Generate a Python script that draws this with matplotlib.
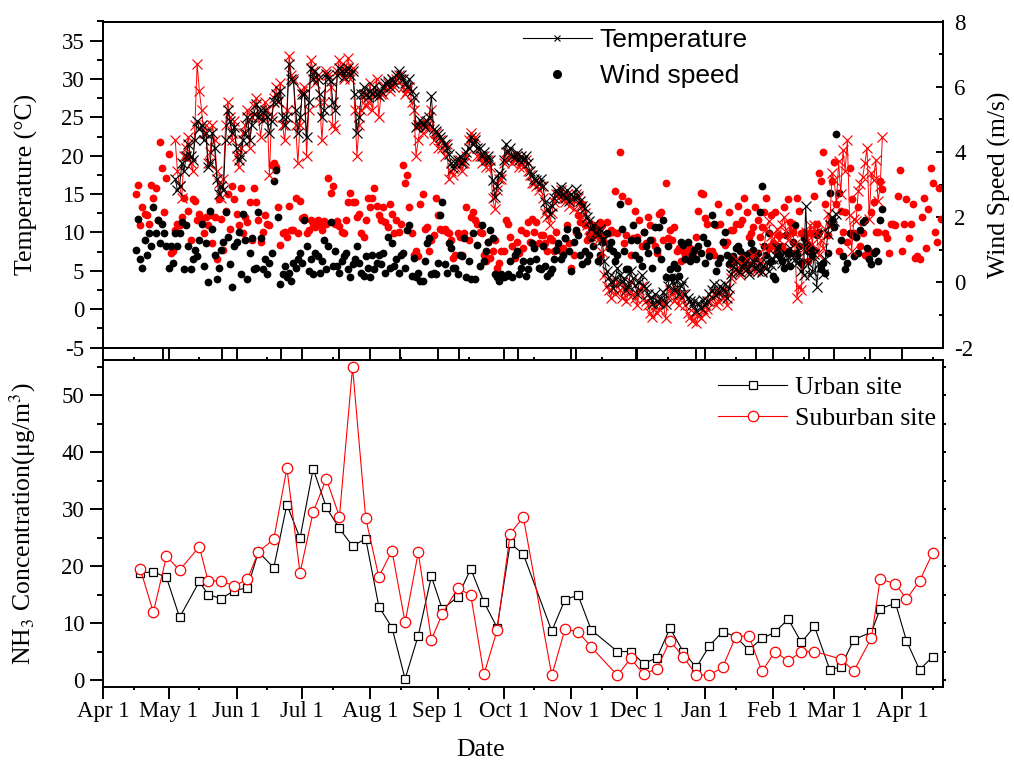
import matplotlib

matplotlib.use("Agg")
import matplotlib.dates as mdates
import matplotlib.pyplot as plt
import pandas as pd
from matplotlib.lines import Line2D
from matplotlib.ticker import FixedLocator, MultipleLocator, NullFormatter

plt.rcParams["font.family"] = ["Liberation Serif", "DejaVu Serif"]
plt.rcParams["mathtext.fontset"] = "stix"
plt.rcParams["axes.unicode_minus"] = False

AXIS_START = pd.Timestamp("2013-04-01")
AXIS_END = AXIS_START + pd.Timedelta(days=383.7)

# daily air temperature (degC); black = urban, red = suburban
TEMP_URBAN_START = "2013-05-04"
temp_urban = [
    17, 15.5, 16, 19, 18, 20, 21.5, 20, 19.5, 22, 24.5, 23.5, 24, 22, 23, 18.5, 19, 23,
    21, 17, 15, 16, 15.5, 22, 26, 24.5, 23, 23.7,
    21, 19.4, 20, 22, 23, 25, 22, 24, 25.5, 26.8, 25, 26, 24.6, 26, 25, 23, 24.5, 27,
    28, 27.2, 28.5, 25, 24, 25, 32, 30, 29.8, 26, 23, 25,
    28, 28, 22.4, 27, 31.5, 30, 31, 30, 28, 25, 26, 30.6, 30, 29.8, 27, 26, 30.5,
    31.5, 31, 30.2, 31, 31.5, 30.5, 31, 28, 23, 25, 28, 29, 28, 27.6,
    28.5, 28, 29, 28, 27.8, 28.5, 29, 29.5, 29.8, 29, 30, 29.5, 30.5, 31,
    30.5, 30, 29.5, 29, 30, 28.5, 27.6, 23.7, 24, 24.6, 24.2, 23.7, 24.5, 25, 27.8, 23.5, 23.2,
    22.8, 22.5, 22, 21.5, 21, 20.2, 19, 18.4, 19, 19.5, 20, 19, 19.5, 20.5,
    21, 22.4, 21.5, 22, 21, 21, 20, 20.5, 19.5, 20, 19.4, 16.8, 14.6, 16, 17.8, 17.5,
    19.5, 21.5, 20.5, 21, 20, 19.8, 20.3, 19.5, 20, 19.4, 20, 19, 18, 17.5, 17, 16.8, 16.3, 17,
    16, 14, 13, 12.4, 13.5, 14.5, 15.5, 15, 15.9, 15, 14.5, 15.5, 14.1,
    15, 14.5, 15.6, 14.8, 14.1, 13.5, 13.2, 12, 11.5, 10.5, 11, 10, 9.8, 10.5, 9,
    6.3, 5, 4.2, 3.5, 2.8, 4, 5.4, 4.5, 3.5, 4, 2.5, 3, 5, 4, 3.2,
    2, 3.5, 4.5, 3, 2.8, 2, 1.5, 0.7, 2, 1, 0.8, 1.5, 2.2, 0.7,
    3, 4.1, 3.5, 2.5, 3.8, 2, 3, 3.5, 2, 1.5, 1, 0.5, 1, -0.2, 0.8, 0.2, 1.2,
    0.5, 1.1, 2, 2.5, 3.3, 1.8, 2.2, 3, 2.5, 3.3, 1.5, 2.8,
    4.6, 5.5, 6.3, 5, 4.8, 5.5, 6, 5.2, 4.6, 5.8, 6.3, 5.5, 5, 6, 4.8, 5.5, 6.2, 5, 5.8,
    6.5, 7, 8, 6.5, 6, 7.5, 7, 6.2, 8, 7.2, 6.5, 6, 6.8, 5, 4.5, 13.5, 6, 4.5, 5,
    7.2, 2.9, 6, 5.5, 4.6, 6.5, 9.8, 11, 12,
    11.5, 12.4,
]
TEMP_SUBURBAN_START = "2013-05-04"
temp_suburban = [
    22, 18, 16, 14.5, 20, 21, 22.5, 19, 18, 24, 32, 28.5, 26, 23, 24, 19, 20.5, 24,
    22, 18, 16.5, 14.5, 17, 24, 27, 25, 22, 24.5,
    20, 18.5, 21, 23, 24, 26, 21, 25, 26.5, 27.5, 25, 22.5, 25, 27, 26, 17.5, 25, 27.5,
    29, 27, 29.5, 24, 22, 26, 33, 30.5, 30, 24, 19, 24,
    28.5, 29, 20, 26, 32.5, 31, 29.5, 30.5, 27, 22, 27, 31, 30.5, 29, 24, 23.5, 31,
    32.5, 31.5, 30, 31.5, 32.8, 30, 31.5, 26, 20, 24, 26, 28, 26.5, 27,
    29.5, 26, 28, 30, 25, 28, 28, 29, 29.5, 28.5, 30, 29, 30, 30.5,
    30, 29, 28, 28.5, 29, 27, 26, 20, 22, 24, 23, 24.5, 24, 23.5, 26, 22, 23,
    21, 22, 21, 20, 21.5, 17, 18, 17.5, 18.5, 19, 19.5, 18, 19, 20,
    22, 23, 21.5, 22.5, 20, 20, 19, 20, 18.5, 19.5, 18.5, 14.5, 13, 15.5, 17, 17,
    19, 20.5, 19.5, 20, 19, 19.5, 20, 18.5, 19, 18.5, 19.5, 18, 17.5, 16.5, 16.5, 16, 15.5, 16,
    14.5, 12.5, 12, 11, 12.5, 14, 15, 14.5, 15.5, 14.5, 14, 15, 13.5,
    14.5, 13, 15, 14.5, 13.5, 12, 12.5, 11, 10.5, 9.5, 10, 11, 9, 10, 7.5,
    4.5, 3, 2.5, 1.5, 3.5, 2, 3.5, 2.5, 1.5, 3, 1, 2, 3.5, 2, 1.5,
    0.5, 2.5, 3, 1.5, 1, 0.5, -0.5, -1, 0.5, -0.5, 0, 1, 0.5, -1.2,
    1.5, 2.5, 2, 1, 2.5, 0.5, 1.5, 2, 0.5, -0.5, -1, -1.5, -0.5, -1.8, -0.8, -1.2, 0,
    -0.5, 0, 1, 1.5, 2, 0.5, 1, 2.2, 1.5, 2.5, 0.5, 1.8,
    4, 5, 6.5, 5.5, 4.5, 6, 5.5, 6.5, 5, 6, 7, 5, 5.5, 6.5, 5, 8, 10.5, 11.5, 9.5,
    8, 9.5, 10.5, 9, 11, 12, 10, 9, 11, 10, 8.5, 1.5, 3, 2.5, 8, 10, 9, 11, 8.5,
    11, 10, 7, 9, 8, 10.5, 12.4, 11, 17.7,
    16.8, 13.6, 19.3, 15, 20.7, 18, 22, 12.3, 7.6, 11.8, 11.5, 15.4, 16.3, 17.2,
    19, 21, 11.8, 17.7, 16.8, 19.5, 14.1, 16, 22.4,
]

# daily wind speed (m/s)
WIND_URBAN_START = "2013-04-16"
wind_urban = [
    1.0, 1.95, 0.7, 0.45, 1.3, 0.85, 1.5, 1.1, 2.3, 1.5, 1.9, 1.2, 1.8, 1.5, 1.1,
    0.45, 1.1, 0.6, 1.5, 1.1, 1.5, 1.85, 0.4, 1.75, 1.1, 0.4, 0.7, 1.0, 0.8, 1.3, 1.8,
    0.5, 1.2, 0.0, 2.2, 1.65, 0.85, 0.1, 0.45, 1.0, 1.25, 2.15, 1.4, 0.55, -0.15, 1.1,
    1.25, 1.55, 0.25, 2.1, 1.3, 0.1, 0.9, 1.35, 0.4, 0.45, 2.15, 1.35, 0.4, 0.7, 0.25,
    0.6, 0.9, 3.1, 3.45, 2.0, -0.05, 0.25, 0.5, 0.15, 0.3, 0.05, 0.6, 0.45, 0.7, 0.9,
    0.6, 1.9, 1.1, 0.35, 0.7, 0.25, 0.9, 0.8, 0.3, 0.65, 1.3, 0.4, 1.1, 1.85, 0.5, 0.95,
    0.5, 0.3, 0.65, 0.8, 0.9, 0.4, 0.15, 0.55, 0.7, 1.1, 0.6, 0.3, 0.2, 0.8, 0.45,
    0.15, 0.85, 0.4, 0.6, 0.85, 0.55, 0.9, 0.3, 1.4, 0.45, 1.2, 0.5, 0.7, 0.3, 0.85, 0.9,
    0.45, 1.6, 1.75, 0.2, 0.75, 0.15, 0.3, 0.05, 0.05, 0.65, 1.2, 1.35, 0.25, 0.3, 0.25,
    0.6, 2.05, 2.45, 0.55, 0.3, 1.2, 1.05, 0.45, 0.45, 0.25, 0.85, 0.8, 1.35, 0.15, 0.65,
    0.1, 1.5, 0.1, 1.15, 0.5, 1.75, 0.65, 0.95, 1.25, 1.6, 1.35, 0.25, 0.15, 0.05, 0.25,
    0.15, 0.2, 0.25, 0.65, 0.15, 0.85, 0.95, 0.25, 0.45, 0.65, 0.2, 0.4, 0.65, 1.2, 1.05, 0.7,
    0.45, 0.4, 1.1, 0.5, 0.2, 0.3, 0.4, 0.7, 1.0, 1.2, 0.7, 0.85, 1.35, 1.65, 0.95,
    0.35, 1.25, 1.6, 1.45, 0.85, 0.55, 0.95, 0.65, 0.85, 1.35, 1.1, 1.65, 0.65, 0.85, 1.25,
    1.45, 1.5, 1.05, 1.25, 0.95, 0.65, 0.85, 2.4, 1.65, 0.95, 0.4, 0.4, 1.3, 1.75, 0.85,
    1.3, 0.7, 0.5, 1.55, 1.1, 0.9, 1.3, 0.45, 1.7, 1.0, 1.7, 0.7, 1.9, 0.15, 1.1, 0.4,
    0.15, 0.55, 0.45, 0.2, 1.25, 1.15, 0.7, 1.25, 0.65, 0.85, 1.0, 0.7, 1.1, 0.9, 1.4,
    0.6, 1.2, 0.8, 2.05, 1.8, 0.35, 0.6, 0.75, 1.25, 1.55, 0.85, 0.55, 0.65, 0.8, 1.05, 1.1,
    0.95, 0.7, 0.85, 0.6, 0.9, 1.2, 1.0, 0.75, 0.9, 2.15, 2.95, 1.1, 0.85, 1.5, 0.65,
    0.2, 0.1, 1.1, 0.85, 0.65, 0.45, 1.45, 0.9, 0.5, 1.25, 1.75, 0.9, 1.1, 0.6,
    1.35, 1.2, 0.95, 1.1, 0.85, 1.0, 1.45, 1.55, 0.4, 0.6, 0.3, 0.9, 2.75, 1.9,
    1.7, 4.55, 2.75, 1.3, 0.8, 0.4, 0.6, 1.5, 1.45, 0.8, 1.4, 0.9, 1.6, 1.85, 1.9, 1.05,
    0.7, 0.55, 0.9, 0.95, 0.65, 1.9, 2.25,
]
WIND_SUBURBAN_START = "2013-04-16"
wind_suburban = [
    2.7, 3.0, 1.75, 2.3, 2.1, 2.05, 1.8, 3.0, 2.6, 2.9, 1.9, 4.3, 3.5, 2.15, 3.2,
    3.95, 0.9, 0.95, 1.6, 1.8, 1.75, 2.0, 2.6, 3.85, 2.2, 1.3, 2.55, 2.5, 1.9, 2.1, 1.95,
    1.5, 2.0, 1.75, 2.05, 1.2, 2.0, 0.7, 2.55, 1.95, 1.0, 2.2, 2.7, 1.65, 2.95, 2.55,
    2.1, 1.75, 2.9, 1.5, 2.0, 1.85, 2.45, 1.3, 2.9, 2.45, 1.9, 1.25, 1.55, 2.05, 1.8,
    1.75, 3.6, 3.65, 3.55, 2.3, 1.15, 1.5, 1.55, 1.4, 2.35, 1.6, 1.6, 2.6, 1.5, 2.5,
    1.98, 2.0, 1.5, 1.6, 1.9, 1.8, 1.7, 1.9, 1.8, 1.6, 1.88, 1.78, 3.2, 2.75, 2.95, 1.78,
    1.88, 1.73, 1.55, 1.5, 1.9, 2.45, 2.75, 2.45, 2.45, 2.0, 2.1, 1.5, 1.4, 1.9, 2.6,
    2.3, 2.6, 2.9, 2.35, 2.05, 1.9, 2.3, 1.85, 1.7, 2.4, 2.1, 1.5, 1.9, 1.55, 1.8, 3.6,
    3.05, 3.3, 2.3, 1.5, 0.85, 0.95, 0.8, 2.4, 2.7, 1.65, 1.7, 0.95, 1.3, 1.45, 2.6,
    2.05, 1.65, 1.6, 1.65, 1.55, 1.5, 1.3, 0.75, 0.85, 1.5, 1.4, 0.85, 1.5, 2.3, 1.3,
    2.0, 2.15, 1.9, 1.8, 1.55, 1.5, 0.85, 0.65, 1.25, 0.75, 0.95, 1.3, 0.45, 0.6, 0.95,
    0.95, 1.9, 1.8, 1.4, 1.1, 0.75, 1.25, 0.9, 1.6, 1.05, 1.5, 1.85, 1.25, 1.95, 1.55, 1.85,
    1.2, 1.45, 1.45, 1.2, 0.95, 1.35, 1.3, 0.95, 1.55, 1.1, 0.95, 1.05, 1.35, 1.75, 1.2,
    0.45, 0.85, 1.55, 2.05, 1.85, 2.4, 1.75, 1.3, 1.45, 1.35, 1.75, 1.55, 1.45, 1.85, 1.75,
    1.25, 1.85, 1.5, 1.6, 1.55, 2.8, 1.5, 4.0, 2.65, 1.2, 1.45, 2.5, 0.85, 1.35, 2.2,
    1.4, 1.9, 1.1, 1.55, 1.2, 2.0, 1.75, 1.3, 1.1, 0.9, 2.1, 2.15, 1.3, 3.05, 1.35, 1.6,
    1.3, 1.7, 0.95, 1.05, 0.65, 0.95, 0.85, 0.95, 1.05, 0.85, 0.95, 1.4, 2.2, 2.75, 2.7,
    1.98, 1.8, 0.95, 0.95, 0.85, 1.75, 2.4, 1.78, 1.25, 1.15, 1.25, 2.15, 1.6, 1.6, 1.8, 2.35,
    1.8, 1.9, 2.6, 2.15, 1.4, 1.5, 1.7, 2.3, 1.9, 1.4, 1.7, 2.15, 2.6, 1.05, 2.05,
    1.2, 2.15, 0.95, 1.45, 1.1, 2.3, 0.95, 2.55, 1.85, 1.55, 0.9, 2.6, 2.2, 1.5,
    1.55, 1.1, 0.65, 1.5, 1.5, 2.65, 1.8, 3.35, 3.1, 4.0, 2.4, 1.45, 1.8, 3.1,
    3.7, 2.4, 0.95, 2.2, 1.55, 2.15, 1.25, 3.5, 2.55, 1.5, 1.4, 2.3, 1.1, 1.5, 0.85, 0.8,
    0.95, 2.15, 2.45, 1.55, 1.55, 3.1, 2.85, 1.5, 1.35, 0.9, 1.8, 1.8, 1.75, 2.65, 3.45,
    0.95, 1.8, 2.55, 1.35, 1.8, 2.4, 0.75, 0.8, 0.7, 2.0, 2.6, 1.05, 2.25, 3.5, 3.05,
    1.55, 1.25, 2.9, 1.95,
]

# NH3 sampling campaigns (ug/m3)
nh3_urban_dates = [
    "2013-04-18", "2013-04-24", "2013-04-30", "2013-05-06", "2013-05-15", "2013-05-19",
    "2013-05-25", "2013-05-31", "2013-06-06", "2013-06-11", "2013-06-18", "2013-06-24",
    "2013-06-30", "2013-07-06", "2013-07-12", "2013-07-18", "2013-07-24", "2013-07-30",
    "2013-08-05", "2013-08-11", "2013-08-17", "2013-08-23", "2013-08-29", "2013-09-03",
    "2013-09-10", "2013-09-16", "2013-09-22", "2013-09-28", "2013-10-04", "2013-10-10",
    "2013-10-23", "2013-10-29", "2013-11-04", "2013-11-10", "2013-11-22", "2013-11-28",
    "2013-12-04", "2013-12-10", "2013-12-16", "2013-12-22", "2013-12-28", "2014-01-03",
    "2014-01-09", "2014-01-15", "2014-01-21", "2014-01-27", "2014-02-02", "2014-02-08",
    "2014-02-14", "2014-02-20", "2014-02-27", "2014-03-04", "2014-03-10", "2014-03-18",
    "2014-03-22", "2014-03-29", "2014-04-03", "2014-04-09", "2014-04-15",
]
nh3_urban = [
    18.8, 19.0, 18.0, 11.0, 17.3, 15.0, 14.3, 15.7, 16.2, 22.5, 19.7, 30.8,
    24.9, 37.1, 30.3, 26.6, 23.5, 24.8, 12.9, 9.2, 0.2, 7.8, 18.2, 12.4,
    14.6, 19.5, 13.7, 9.2, 24.0, 22.1, 8.6, 14.1, 14.9, 8.8, 5.0, 5.0,
    2.9, 3.9, 9.1, 5.0, 2.2, 6.0, 8.5, 7.6, 5.3, 7.3, 8.4, 10.7,
    6.6, 9.4, 1.8, 2.3, 7.1, 8.4, 12.5, 13.5, 6.9, 1.8, 4.1,
]
nh3_suburban_dates = [d for d in nh3_urban_dates if d != "2014-02-27"]
nh3_suburban = [
    19.5, 11.9, 21.7, 19.3, 23.4, 17.4, 17.4, 16.5, 17.7, 22.5, 24.7, 37.2,
    18.8, 29.5, 35.3, 28.7, 54.9, 28.4, 18.1, 22.7, 10.1, 22.4, 7.1, 11.6,
    16.1, 14.9, 1.0, 8.7, 25.7, 28.6, 0.8, 8.9, 8.5, 5.8, 0.8, 3.8,
    1.0, 2.0, 6.9, 4.1, 0.9, 0.9, 2.2, 7.6, 7.8, 1.5, 5.0, 3.3,
    5.0, 5.0, 3.7, 1.6, 7.4, 17.7, 16.9, 14.2, 17.4, 22.3,
]

# ticks of the upper panel's date axis (days after the axis start)
upper_tick_days = [27.4, 54.2, 81.1, 107.8, 135.6, 162.6, 189.5, 216, 243.4, 270.8, 298.2, 322.4, 350.2]


def daily(start, values):
    return pd.date_range(start, periods=len(values), freq="D").to_numpy()


W, H = 1014, 760
fig = plt.figure(figsize=(W / 100, H / 100), dpi=100)
ax_t = fig.add_axes([103 / W, 1 - 347.5 / H, 840 / W, 326 / H])
ax_w = ax_t.twinx()
ax_n = fig.add_axes([103 / W, 1 - 686.7 / H, 840 / W, 326.7 / H])

LW_SPINE = 1.4
TICK_FS = 16.5

# wind speed (right axis) under the temperature lines
ax_w.plot(daily(WIND_SUBURBAN_START, wind_suburban), wind_suburban, "o", color="red",
          ms=5.6, mec="none")
ax_w.plot(daily(WIND_URBAN_START, wind_urban), wind_urban, "o", color="black",
          ms=5.6, mec="none")
ax_t.plot(daily(TEMP_SUBURBAN_START, temp_suburban), temp_suburban, "-x", color="red",
          lw=0.7, ms=7, mew=0.85)
ax_t.plot(daily(TEMP_URBAN_START, temp_urban), temp_urban, "-x", color="black",
          lw=0.7, ms=7, mew=0.85)
ax_t.set_zorder(ax_w.get_zorder() + 1)
ax_t.patch.set_visible(False)

x0, x1 = AXIS_START.to_pydatetime(), AXIS_END.to_pydatetime()
for ax in (ax_t, ax_w, ax_n):
    ax.set_xlim(x0, x1)
    for sp in ax.spines.values():
        sp.set_linewidth(LW_SPINE)

ax_t.set_ylim(-5, 37.5)
ax_w.set_ylim(-2, 8)
ax_t.yaxis.set_major_locator(MultipleLocator(5))
ax_t.yaxis.set_minor_locator(MultipleLocator(2.5))
ax_t.tick_params(axis="y", which="major", direction="out", length=9.5, width=LW_SPINE,
                 labelsize=TICK_FS, pad=4)
ax_t.tick_params(axis="y", which="minor", direction="out", length=4.5, width=LW_SPINE)
ax_w.yaxis.set_major_locator(MultipleLocator(2))
ax_w.yaxis.set_minor_locator(MultipleLocator(1))
ax_w.tick_params(axis="y", which="major", direction="in", length=5, width=LW_SPINE,
                 labelsize=TICK_FS, pad=8)
ax_w.tick_params(axis="y", which="minor", direction="in", length=3, width=LW_SPINE)

upper_ticks = [mdates.date2num(AXIS_START + pd.Timedelta(days=d)) for d in upper_tick_days]
ax_t.xaxis.set_major_locator(FixedLocator(upper_ticks))
ax_t.xaxis.set_major_formatter(NullFormatter())
ax_t.tick_params(axis="x", which="major", direction="out", length=9.1, width=LW_SPINE)

ax_t.set_ylabel("Temperature (°C)", fontsize=18.5)
ax_t.yaxis.set_label_coords(-0.077, 0.5)
ax_w.set_ylabel("Wind Speed (m/s)", fontsize=18.5)
ax_w.yaxis.set_label_coords(1.054, 0.5)

ax_t.legend(
    handles=[
        Line2D([], [], color="black", lw=0.8, marker="x", ms=4.5, mew=0.8),
        Line2D([], [], color="black", ls="none", marker="o", ms=5.5),
    ],
    labels=["Temperature", "Wind speed"],
    loc="upper left", bbox_to_anchor=(523 / W, 1 - 28 / H), bbox_transform=fig.transFigure,
    frameon=False, borderpad=0, borderaxespad=0, handlelength=2.6, handletextpad=0.3,
    labelspacing=0.45, prop={"family": "Liberation Sans", "size": 19},
)

# NH3 panel
ax_n.plot(pd.to_datetime(nh3_urban_dates).to_numpy(), nh3_urban, "-s", color="black",
          mfc="white", ms=5.5, mew=0.9, lw=0.8)
ax_n.plot(pd.to_datetime(nh3_suburban_dates).to_numpy(), nh3_suburban, "-o", color="red",
          mfc="white", ms=7.5, mew=0.9, lw=0.8)
ax_n.set_ylim(-1.17, 56.17)
ax_n.yaxis.set_major_locator(MultipleLocator(10))
ax_n.yaxis.set_minor_locator(MultipleLocator(5))
ax_n.tick_params(axis="y", which="major", direction="out", length=9.5, width=LW_SPINE,
                 labelsize=TICK_FS, pad=4)
ax_n.tick_params(axis="y", which="minor", direction="out", length=4.5, width=LW_SPINE)

ax_n_right = ax_n.secondary_yaxis("right")
ax_n_right.yaxis.set_major_locator(MultipleLocator(5))
ax_n_right.yaxis.set_major_formatter(NullFormatter())
ax_n_right.tick_params(axis="y", direction="out", length=2.5, width=LW_SPINE)
ax_n_right.spines["right"].set_linewidth(LW_SPINE)

ax_n.xaxis.set_major_locator(mdates.MonthLocator())
ax_n.xaxis.set_minor_locator(mdates.DayLocator(bymonthday=15))
ax_n.xaxis.set_major_formatter(mdates.DateFormatter("%b 1"))
ax_n.tick_params(axis="x", which="major", direction="out", length=8.4, width=LW_SPINE,
                 labelsize=TICK_FS, pad=2, top=True)
ax_n.tick_params(axis="x", which="minor", direction="out", length=2.5, width=LW_SPINE,
                 top=True)
for t in ax_n.xaxis.get_major_ticks():
    t.tick2line.set_markersize(9.1)

ax_n.set_ylabel("NH$_3$ Concentration(μg/m$^3$)", fontsize=18.5)
ax_n.yaxis.set_label_coords(-0.077, 0.5)
ax_n.set_xlabel("Date", fontsize=18.5)
ax_n.xaxis.set_label_coords((481 - 103) / 840, -0.16)

ax_n.legend(
    handles=[
        Line2D([], [], color="black", lw=0.8, marker="s", ms=5.5, mfc="white", mew=0.9),
        Line2D([], [], color="red", lw=0.8, marker="o", ms=7.5, mfc="white", mew=0.9),
    ],
    labels=["Urban site", "Suburban site"],
    loc="upper left", bbox_to_anchor=(718 / W, 1 - 376 / H), bbox_transform=fig.transFigure,
    frameon=False, borderpad=0, borderaxespad=0, handlelength=2.7, handletextpad=0.3,
    labelspacing=0.33, prop={"family": "Liberation Serif", "size": 18.5},
)

fig.savefig("out.png", dpi=100)
